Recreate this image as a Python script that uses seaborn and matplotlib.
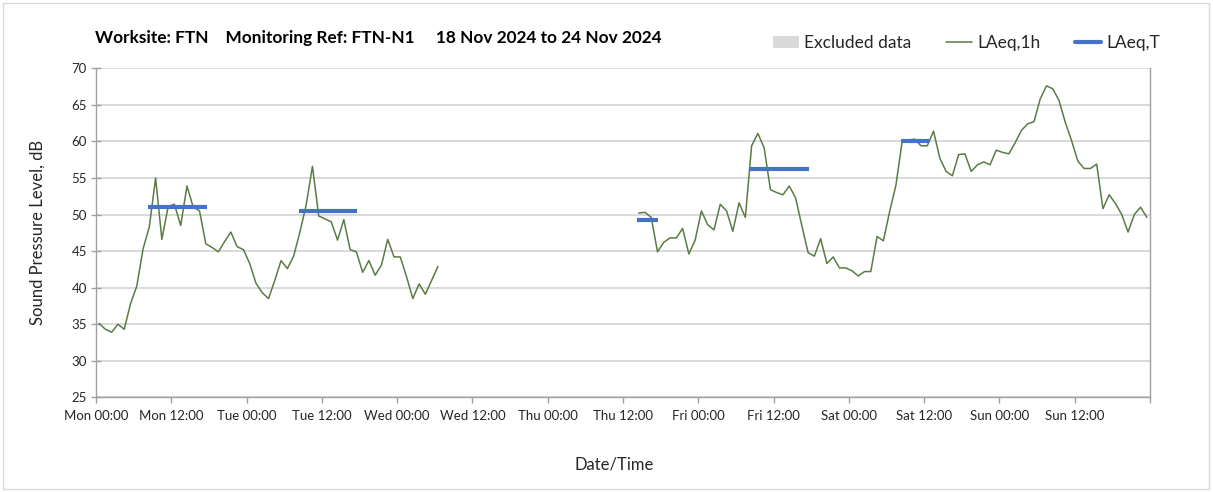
import numpy as np
import pandas as pd
import matplotlib
matplotlib.use("Agg")
import matplotlib.pyplot as plt
import matplotlib.dates as mdates
from matplotlib.patches import Patch, Rectangle
from matplotlib.lines import Line2D
from matplotlib.ticker import FuncFormatter
import seaborn as sns

# ---------------- data ----------------
title_text = "Worksite: FTN    Monitoring Ref: FTN-N1     18 Nov 2024 to 24 Nov 2024"
week_start = "2024-11-18 00:00"
week_end = "2024-11-25 00:00"

# hourly LAeq,1h values (plotted at the middle of each hour)
seg1_start = "2024-11-18 00:30"
seg1_values = [35.1, 34.3, 33.9, 35.0, 34.3, 37.8, 40.2, 45.3, 48.3, 55.0,
               46.6, 51.1, 51.4, 48.5, 53.9, 51.0, 50.5, 46.0, 45.5, 44.9,
               46.3, 47.6, 45.6, 45.2, 43.3, 40.6, 39.3, 38.5,
               41.0, 43.7, 42.6, 44.3, 47.6, 51.3, 56.6, 49.8, 49.4, 49.0,
               46.5, 49.3, 45.2, 44.9, 42.1, 43.7, 41.7, 43.1, 46.6, 44.2,
               44.2, 41.5, 38.5, 40.5, 39.1, 41.0, 42.9]
seg2_start = "2024-11-21 14:30"
seg2_values = [50.2, 50.3, 49.6, 44.9, 46.2, 46.8, 46.8, 48.1, 44.6, 46.5,
               50.5, 48.6, 47.9, 51.4, 50.5, 47.7, 51.6, 49.6, 59.4, 61.1,
               59.1, 53.4, 53.0, 52.7, 53.9, 52.3, 48.5, 44.8, 44.3, 46.7,
               43.3, 44.2, 42.7, 42.7, 42.3, 41.6, 42.2, 42.2, 47.0, 46.4,
               50.4,
               54.0, 60.0, 60.2, 60.3, 59.4, 59.4, 61.4, 57.7, 55.9, 55.3,
               58.2, 58.3, 55.9, 56.8, 57.2, 56.8, 58.8, 58.5, 58.3, 59.8,
               61.5, 62.4, 62.7, 65.8, 67.6, 67.2, 65.6, 62.6, 60.1, 57.3,
               56.3, 56.3, 56.9, 50.8, 52.7, 51.5, 50.0, 47.6, 50.0, 51.0,
               49.6]

# LAeq,T period levels
laeqT_start = ["2024-11-18 08:18", "2024-11-19 08:18", "2024-11-21 14:18",
               "2024-11-22 08:18", "2024-11-23 08:18"]
laeqT_end = ["2024-11-18 17:40", "2024-11-19 17:40", "2024-11-21 17:36",
             "2024-11-22 17:36", "2024-11-23 12:42"]
laeqT_values = [51.0, 50.5, 49.3, 56.2, 60.1]

# excluded periods (none in this week)
excluded_start = []
excluded_end = []

y_ticks = [25, 30, 35, 40, 45, 50, 55, 60, 65, 70]

# ---------------- frames ----------------
t1 = pd.date_range(seg1_start, periods=len(seg1_values), freq="h")
t2 = pd.date_range(seg2_start, periods=len(seg2_values), freq="h")
hourly = pd.concat([
    pd.DataFrame({"time": t1, "level": seg1_values, "seg": 0}),
    pd.DataFrame({"time": t2, "level": seg2_values, "seg": 1}),
], ignore_index=True)

rows = []
for i, (s, e, v) in enumerate(zip(laeqT_start, laeqT_end, laeqT_values)):
    rows.append({"time": pd.Timestamp(s), "level": v, "seg": i})
    rows.append({"time": pd.Timestamp(e), "level": v, "seg": i})
periods = pd.DataFrame(rows)

# ---------------- style ----------------
sns.set_theme(style="white")
plt.rcParams["font.family"] = ["Lato", "DejaVu Sans"]

green = "#5b7b45"
blue = "#4472c4"
grid_c = "#d9d9d9"
axis_c = "#a0a0a0"
text_c = "#262626"

fig = plt.figure(figsize=(12.13, 4.92), dpi=100)
fig.patch.set_facecolor("white")
ax = fig.add_axes([96 / 1213, 1 - 397.3 / 492, 1054 / 1213, 329 / 492])

for s, e in zip(excluded_start, excluded_end):
    ax.axvspan(pd.Timestamp(s), pd.Timestamp(e), color=grid_c, lw=0)

sns.lineplot(data=hourly, x="time", y="level", units="seg", estimator=None,
             color=green, lw=1.1, ax=ax, legend=False)
sns.lineplot(data=periods, x="time", y="level", units="seg", estimator=None,
             color=blue, lw=3, ax=ax, legend=False, solid_capstyle="butt")

xmin, xmax = pd.Timestamp(week_start), pd.Timestamp(week_end)
ax.set_xlim(xmin, xmax)
ax.set_ylim(25, 70)
ax.set_yticks(y_ticks)

end_num = mdates.date2num(xmax)


def fmt_x(val, pos):
    if abs(val - end_num) < 1e-6:
        return ""
    return mdates.num2date(val).strftime("%a %H:%M")


ax.xaxis.set_major_locator(mdates.HourLocator(byhour=[0, 12]))
ax.xaxis.set_major_formatter(FuncFormatter(fmt_x))
ax.xaxis.set_minor_locator(mdates.DayLocator())

ax.grid(False)
ax.grid(which="major", axis="y", color=grid_c, lw=1.4)
ax.grid(which="minor", axis="x", color=grid_c, lw=1.4)
ax.set_axisbelow(True)

for side in ["left", "bottom", "right"]:
    ax.spines[side].set_visible(True)
    ax.spines[side].set_color(axis_c)
    ax.spines[side].set_linewidth(1.0)
ax.spines["top"].set_visible(False)

ax.tick_params(axis="y", which="major", direction="inout", length=7, width=1,
               color=axis_c, labelsize=9.5, labelcolor=text_c, pad=3, left=True)
ax.tick_params(axis="x", which="major", direction="out", length=4, width=1,
               color=axis_c, labelsize=9.5, labelcolor=text_c, pad=5, bottom=True)
ax.tick_params(axis="x", which="minor", length=0)

ax.set_xlabel("Date/Time", fontsize=12, color=text_c)
ax.set_ylabel("Sound Pressure Level, dB", fontsize=12, color=text_c)
ax.xaxis.set_label_coords((614 - 96) / 1054, (397.3 - 457) / 329)
ax.yaxis.set_label_coords((46 - 96) / 1054, 0.5)

fig.text(95 / 1213, 1 - 38 / 492, title_text, fontsize=12.4, fontweight="bold",
         color="black", va="center", ha="left")

handles = [Patch(facecolor=grid_c, edgecolor="none", label="Excluded data"),
           Line2D([0], [0], color=green, lw=1.1, label="LAeq,1h"),
           Line2D([0], [0], color=blue, lw=3, label="LAeq,T")]
fig.legend(handles=handles, loc="center right", ncol=3, frameon=False,
           bbox_to_anchor=(1176 / 1213, 1 - 43 / 492), fontsize=12.5,
           handlelength=1.5, handleheight=0.7, columnspacing=2.0, handletextpad=0.3,
           labelcolor=text_c)

fig.add_artist(Rectangle((3 / 1213, 3 / 492), 1206 / 1213, 486 / 492,
                         transform=fig.transFigure, fill=False,
                         edgecolor="#d9d9d9", lw=1))

fig.savefig("out.png", dpi=100)
